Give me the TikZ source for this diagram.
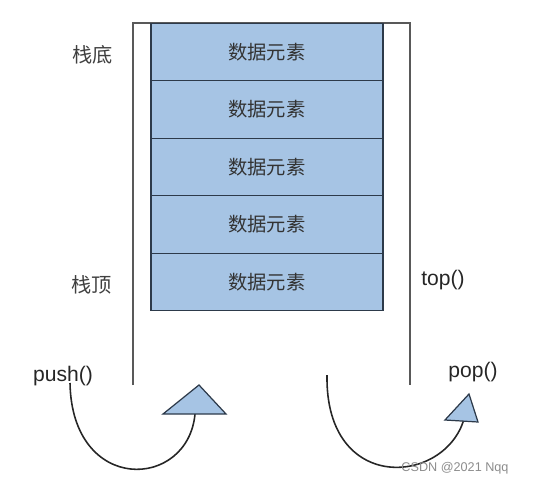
\documentclass[tikz,border=0pt]{standalone}
\usepackage{fontspec}
\setmainfont{Liberation Sans}
\newfontfamily\cjk{Noto Sans CJK SC}
\usetikzlibrary{positioning}

\definecolor{cellblue}{RGB}{166,196,228}
\definecolor{celledge}{RGB}{45,58,74}

\begin{document}
\begin{tikzpicture}[
    x=0.02cm, y=-0.02cm,
    wall/.style={draw=black!65, line width=0.7pt},
    cell/.style={draw=celledge, fill=cellblue, line width=0.8pt,
        minimum width=4.64cm, minimum height=1.15cm, outer sep=0pt,
        font=\cjk\fontsize{11}{13}\selectfont, text=black!80},
    tag/.style={font=\cjk\fontsize{11.5}{13}\selectfont, text=black!75},
    op/.style={font=\fontsize{12}{14}\selectfont, text=black!85},
    bend line/.style={line width=0.9pt, black!85},
    tip/.style={draw=celledge, fill=cellblue, line width=0.7pt, line join=miter}
    ]

\useasboundingbox (0,0) rectangle (542,484);

% stack walls
\coordinate (TL) at (133,23);
\coordinate (TR) at (410,23);
\coordinate (BL) at (133,385);
\coordinate (BR) at (410,385);
\draw[wall] (BL) -- (TL) -- (TR) -- (BR);

% elements
\node[cell] (e1) at (267,52) {数据元素};
\node[cell, below=0pt of e1] (e2) {数据元素};
\node[cell, below=0pt of e2] (e3) {数据元素};
\node[cell, below=0pt of e3] (e4) {数据元素};
\node[cell, below=0pt of e4] (e5) {数据元素};

\node[tag] (bottom) at (93,55) {栈底};
\node[tag] (topend) at (92,285) {栈顶};
\node[op] (top) at (443,280) {top()};
\node[op] (push) at (63,376) {push()};
\node[op] (pop) at (473,372) {pop()};

% push arrow
\coordinate (pushA) at (163,414);
\coordinate (pushB) at (199,385);
\coordinate (pushC) at (226,414);
\coordinate (pushS) at (70,383);
\coordinate (pushE) at (195,414);
\draw[bend line] (pushS) .. controls (72,495) and (188,490) .. (pushE);
\draw[tip] (pushA) -- (pushB) -- (pushC) -- cycle;

% pop arrow
\coordinate (popA) at (445,420);
\coordinate (popB) at (469,394);
\coordinate (popC) at (478,422);
\coordinate (popS) at (327,375);
\coordinate (popE) at (464,419);
\draw[bend line] (popS) .. controls (325,495) and (445,485) .. (popE);
\draw[tip] (popA) -- (popB) -- (popC) -- cycle;

\node[text=black!45, font=\fontsize{7.2}{9}\selectfont] (mark) at (455,468)
    {CSDN @2021 Nqq};

\end{tikzpicture}
\end{document}
